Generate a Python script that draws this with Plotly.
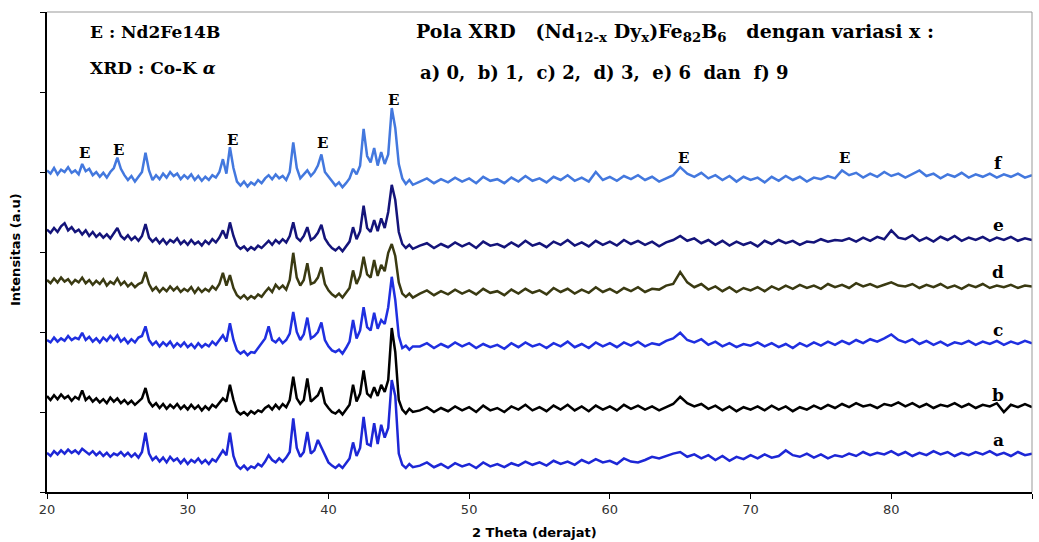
import plotly.graph_objects as go

# 2-theta sampling grid (degrees): fine steps through the peak region, coarser after
theta = [round(20 + 0.25 * i, 2) for i in range(105)] + [round(46.5 + 0.5 * j, 2) for j in range(88)]

# Intensities (counts, a.u.), each curve relative to its own baseline
f_fine = [52,48,55,47,53,50,56,49,52,47,60,51,54,46,50,44,49,43,50,55,68,54,46,40,45,38,44,50,74,52,
          40,46,41,48,43,50,45,48,41,46,42,47,40,45,39,44,40,46,43,50,66,48,81,55,38,33,38,32,37,34,
          40,36,42,46,41,47,42,45,40,50,87,55,42,47,52,45,50,58,72,50,44,38,33,37,31,36,42,54,47,58,
          104,70,62,80,58,75,60,72,130,105,60,42,35,40,34]
f_coarse = [38,42,36,41,37,43,38,42,36,44,39,41,36,43,38,45,39,42,37,44,40,46,39,43,38,50,40,44,39,45,
            41,46,40,44,38,42,46,56,48,44,49,42,46,40,45,38,44,40,43,37,44,39,45,40,44,38,43,41,45,42,
            52,46,49,43,48,44,50,45,48,43,47,52,45,48,42,47,44,49,43,47,44,48,43,47,44,48,43,46]

e_fine = [58,54,60,55,62,66,57,61,55,58,52,57,50,55,49,53,48,52,47,54,60,50,46,51,45,49,44,50,65,48,
          43,47,41,46,40,45,42,47,40,44,39,45,40,43,38,44,40,46,42,48,57,47,67,50,38,34,37,32,36,33,
          38,35,40,44,39,45,41,46,42,50,67,48,44,50,61,45,48,54,64,47,40,35,32,36,31,37,43,61,46,56,
          88,60,55,70,56,72,60,80,114,95,55,40,35,39,34]
e_coarse = [38,41,35,40,36,42,37,41,35,43,38,40,36,42,37,44,38,41,36,43,39,45,38,42,37,44,39,43,38,45,
            40,44,39,43,37,42,45,50,44,47,41,45,39,44,38,43,39,42,37,44,40,45,41,44,39,43,42,46,43,45,
            44,47,43,48,44,49,46,57,48,46,51,44,48,43,49,45,50,44,48,45,49,44,48,45,49,44,47,45]

d_fine = [55,51,57,52,58,53,56,50,55,52,58,51,55,49,54,50,56,48,53,50,57,49,53,47,51,46,50,52,65,50,
          42,46,40,45,41,47,42,46,40,44,41,46,39,45,40,44,41,47,43,50,64,48,61,45,36,32,36,31,35,32,
          37,34,40,45,40,49,44,48,43,55,89,58,48,55,76,50,52,58,71,50,42,37,34,38,33,39,45,67,50,60,
          84,62,58,80,60,74,66,89,100,85,52,38,34,38,33]
d_coarse = [38,42,36,41,37,43,38,42,37,44,39,41,36,43,38,44,39,42,37,45,40,44,38,43,39,46,40,44,39,45,
            41,46,40,44,43,48,50,65,52,46,50,43,47,41,46,40,45,42,46,41,47,43,48,44,49,45,48,44,50,46,
            49,45,51,47,50,46,49,52,48,47,50,45,49,46,50,45,48,44,49,46,50,45,48,46,49,45,48,47]

c_fine = [50,47,53,48,52,49,55,50,53,51,59,50,54,48,52,47,53,49,55,50,56,48,52,46,51,47,53,55,67,50,
          44,48,42,47,43,48,41,46,42,47,41,45,40,46,41,45,42,48,44,50,56,48,71,50,37,33,36,31,35,34,
          40,46,52,67,50,47,52,46,50,58,85,60,50,57,78,52,55,60,72,50,42,37,35,38,33,40,48,75,52,62,
          91,66,62,84,64,75,70,91,129,100,55,40,43,38,42]
c_coarse = [42,46,40,45,41,47,42,46,40,45,41,44,39,46,41,47,42,45,40,46,42,48,41,45,40,47,42,46,41,47,
            43,48,42,46,44,49,52,59,50,47,51,44,48,42,46,41,45,43,47,42,46,41,45,40,46,42,47,43,48,44,
            49,45,50,46,51,48,52,57,50,47,51,45,49,44,48,43,47,45,49,44,48,45,49,44,48,45,49,46]

b_fine = [55,50,56,51,57,52,55,49,54,51,62,50,54,48,52,47,51,46,53,48,52,46,50,45,49,44,48,52,65,48,
          42,46,40,45,39,44,40,45,39,43,38,44,39,43,37,42,38,44,41,47,52,48,69,50,36,32,35,31,36,33,
          37,35,40,43,38,44,39,45,41,50,79,52,45,50,77,48,52,56,66,46,40,35,33,37,32,38,44,69,48,58,
          87,58,54,66,55,69,60,75,140,110,50,38,33,39,35]
b_coarse = [37,41,35,40,36,42,37,41,35,43,37,40,35,42,38,44,37,41,36,43,38,44,37,42,36,43,38,42,37,44,
            39,43,38,42,37,41,45,54,46,42,45,39,43,37,42,36,41,38,42,37,43,38,42,36,41,38,43,39,44,40,
            45,41,46,42,44,40,45,43,47,42,46,41,45,40,44,42,46,41,45,40,44,42,46,35,44,41,45,41]

a_fine = [49,45,51,47,52,48,53,49,52,48,54,50,47,51,46,50,45,49,44,48,46,50,45,49,44,48,43,50,74,48,
          40,44,38,43,37,44,39,42,36,41,35,40,37,42,36,40,35,41,38,45,52,46,74,45,33,29,33,28,32,30,
          35,32,38,46,40,37,42,38,43,50,92,55,44,50,75,48,52,65,55,45,37,33,30,34,30,36,42,62,45,55,
          94,60,58,86,60,84,68,80,140,120,48,34,30,35,31]
a_coarse = [33,37,31,35,30,36,32,35,30,37,32,35,31,36,33,38,34,37,33,39,35,38,34,40,36,41,37,39,35,42,
            38,37,40,44,42,45,48,50,44,47,42,46,40,45,39,44,41,46,42,47,43,45,52,46,44,48,43,47,42,46,
            44,48,45,50,46,49,47,51,46,50,45,49,46,51,47,50,45,49,46,50,47,51,46,49,45,50,46,48]

series_names = ["a", "b", "c", "d", "e", "f"]
series_values = [a_fine + a_coarse, b_fine + b_coarse, c_fine + c_coarse,
                 d_fine + d_coarse, e_fine + e_coarse, f_fine + f_coarse]
for n, v in zip(series_names, series_values):
    assert len(v) == len(theta), (n, len(v), len(theta))

# phase marker positions (2-theta) and their label heights
E_theta = [22.7, 25.1, 33.2, 39.6, 44.6, 65.2, 76.7]
E_y = [424, 428, 440, 436, 490, 417, 417]

# presentation: vertical stacking offsets, colours, label heights
offsets = [0, 65, 140, 210, 270, 350]
colors = ["#1d27d6", "#000000", "#1f2fe0", "#3a3a12", "#14147a", "#4378de"]
label_y = [65, 121, 202, 275, 334, 411]

W, H = 1039, 542
L, R, T, B = 47, 7, 12, 50

fig = go.Figure()
for n, v, off, col in zip(series_names, series_values, offsets, colors):
    fig.add_trace(go.Scatter(x=theta, y=[off + c for c in v], mode="lines",
                             line=dict(color=col, width=2.5), name=n, showlegend=False))

serif = "DejaVu Serif, serif"
sans = "DejaVu Sans, sans-serif"
NB = "\u00a0"
ann = []
for n, ly in zip(series_names, label_y):
    ann.append(dict(x=87.6, y=ly, xref="x", yref="y", text="<b>%s</b>" % n, showarrow=False,
                    font=dict(family=serif, size=17, color="#000")))
for ex, ey in zip(E_theta, E_y):
    ann.append(dict(x=ex, y=ey, xref="x", yref="y", text="<b>E</b>", showarrow=False,
                    font=dict(family=serif, size=15, color="#000")))

title1 = ("<b>Pola" + NB + "XRD" + NB * 3 + "(Nd<sub>12-x</sub>" + NB + "Dy<sub>x</sub>)Fe<sub>82</sub>B<sub>6</sub>"
          + NB * 3 + "dengan" + NB + "variasi" + NB + "x :</b>")
title2 = ("<b>" + ("," + NB * 2).join(["a) 0", "b) 1", "c) 2", "d) 3"]) + "," + NB * 2 + "e) 6"
          + NB * 2 + "dan" + NB * 2 + "f) 9</b>")
pix = [
    dict(x=88, y=32, text="<b>E : Nd2Fe14B</b>", font=dict(family=serif, size=17, color="#000")),
    dict(x=88, y=68, text="<b>XRD : Co-K <i>α</i></b>", font=dict(family=serif, size=17, color="#000")),
    dict(x=414, y=33, text=title1, font=dict(family=serif, size=19, color="#000")),
    dict(x=418, y=72, text=title2, font=dict(family=serif, size=18, color="#000")),
]
for a in pix:
    a.update(xref="paper", yref="paper", showarrow=False, xanchor="left", yanchor="middle",
             x=(a["x"] - L) / (W - L - R), y=(H - B - a["y"]) / (H - T - B))
    ann.append(a)
# axis titles
ann.append(dict(xref="paper", yref="paper", x=(534 - L) / (W - L - R), y=(H - B - 532) / (H - T - B),
                text="<b>2 Theta (derajat)</b>", showarrow=False, xanchor="center", yanchor="middle",
                font=dict(family=sans, size=13, color="#000")))
ann.append(dict(xref="paper", yref="paper", x=(15 - L) / (W - L - R), y=(H - B - 250) / (H - T - B),
                text="<b>Intensitas (a.u)</b>", showarrow=False, xanchor="center", yanchor="middle",
                textangle=-90, font=dict(family=sans, size=13, color="#000")))

fig.update_layout(
    width=W, height=H,
    margin=dict(l=L, r=R, t=T, b=B, autoexpand=False),
    paper_bgcolor="white", plot_bgcolor="white",
    annotations=ann,
    xaxis=dict(range=[20, 90], dtick=10, tick0=20, showgrid=False, zeroline=False, automargin=False,
               showline=True, linecolor="#000", linewidth=1.5,
               ticks="outside", ticklen=5, tickcolor="#000",
               tickfont=dict(family=sans, size=13, color="#333")),
    yaxis=dict(range=[0, 600], dtick=100, showgrid=False, zeroline=False, showticklabels=False,
               automargin=False, showline=True, linecolor="#000", linewidth=1.5,
               ticks="outside", ticklen=5, tickcolor="#000"),
    shapes=[dict(type="line", xref="paper", yref="paper", x0=0, x1=1, y0=1, y1=1,
                 line=dict(color="#999", width=1)),
            dict(type="line", xref="paper", yref="paper", x0=1, x1=1, y0=0, y1=1,
                 line=dict(color="#999", width=1))],
)
fig.write_html("out.html", config={"displayModeBar": False},
               post_script="document.body.style.margin='0';document.body.style.overflow='hidden';")
